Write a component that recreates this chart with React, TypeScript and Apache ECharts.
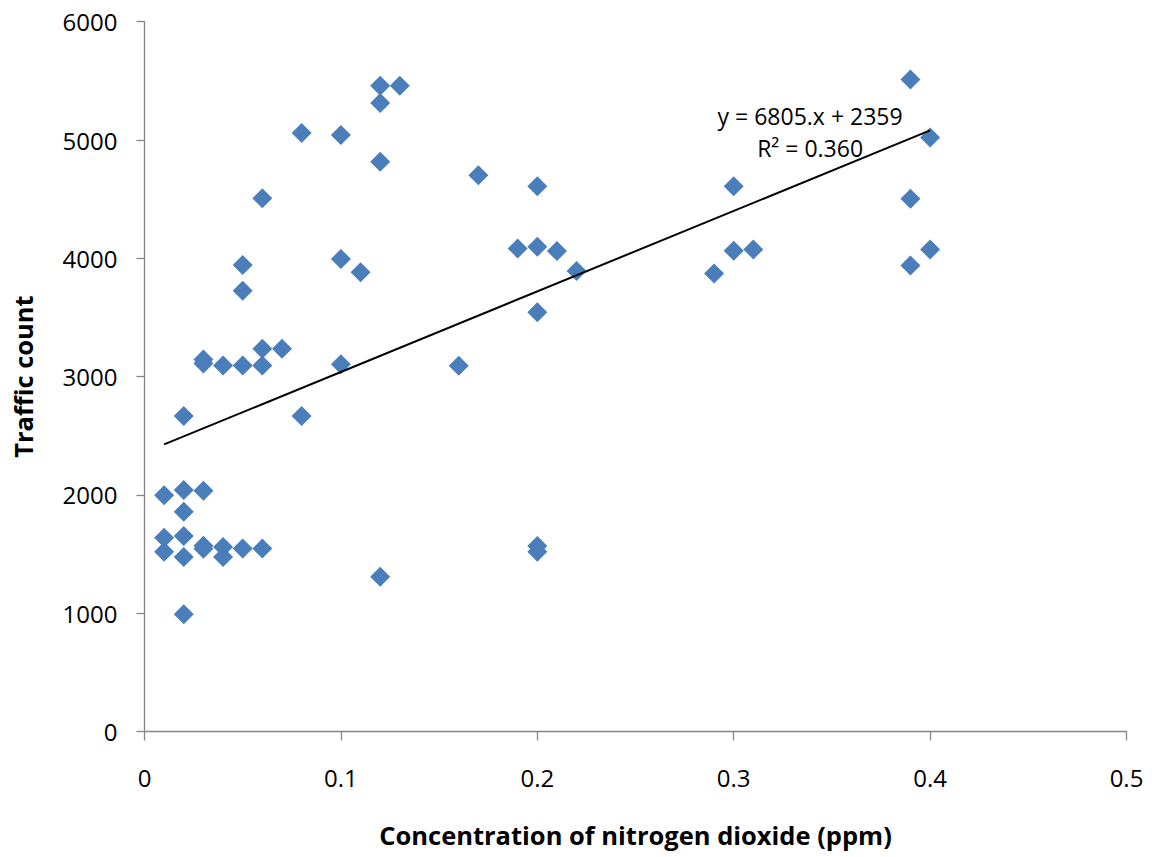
import React, { useEffect, useRef } from "react";
import * as echarts from "echarts";

// NO2 concentration (ppm) and traffic counts
const no2Ppm = [
  0.01, 0.01, 0.01,
  0.02, 0.02, 0.02, 0.02, 0.02, 0.02,
  0.03, 0.03, 0.03, 0.03, 0.03,
  0.04, 0.04, 0.04,
  0.05, 0.05, 0.05, 0.05,
  0.06, 0.06, 0.06, 0.06,
  0.07,
  0.08, 0.08,
  0.1, 0.1, 0.1,
  0.11,
  0.12, 0.12, 0.12, 0.12,
  0.13,
  0.16,
  0.17,
  0.19,
  0.2, 0.2, 0.2, 0.2, 0.2,
  0.21,
  0.22,
  0.29,
  0.3, 0.3,
  0.31,
  0.39, 0.39, 0.39,
  0.4, 0.4,
];
const trafficCount = [
  1996, 1638, 1520,
  2666, 2041, 1858, 1652, 1475, 991,
  3145, 3110, 2035, 1570, 1545,
  3094, 1559, 1475,
  3944, 3725, 3094, 1546,
  4507, 3235, 3094, 1546,
  3235,
  5059, 2666,
  5042, 3995, 3105,
  3882,
  5459, 5312, 4817, 1308,
  5459,
  3091,
  4703,
  4083,
  4610, 4097, 3543, 1568, 1520,
  4061,
  3892,
  3872,
  4610, 4063,
  4075,
  5512, 4503, 3940,
  5021, 4075,
];

// Linear trendline as reported on the chart
const trendSlope = 6805;
const trendIntercept = 2359;
const trendRange = [0.01, 0.4];
const equationText = ["y = 6805.x + 2359", "R² = 0.360"];
const equationAnchor = [0.3389, 5066];

const xTicks = { min: 0, max: 0.5, interval: 0.1 };
const yTicks = { min: 0, max: 6000, interval: 1000 };

const FONT = "'Open Sans', sans-serif";
const AXIS_GRAY = "#868686";

export default function App() {
  const ref = useRef<HTMLDivElement>(null);

  useEffect(() => {
    if (!ref.current) return;
    const chart = echarts.init(ref.current, undefined, { renderer: "svg" });
    const points = no2Ppm.map((x, i) => [x, trafficCount[i]]);
    const trend = trendRange.map((x) => [x, trendSlope * x + trendIntercept]);

    chart.setOption({
      animation: false,
      backgroundColor: "#ffffff",
      grid: { left: 144.5, right: 25.5, top: 21.7, bottom: 125.5, containLabel: false },
      xAxis: {
        type: "value",
        min: xTicks.min,
        max: xTicks.max,
        interval: xTicks.interval,
        name: "Concentration of nitrogen dioxide (ppm)",
        nameLocation: "middle",
        nameGap: 103,
        nameTextStyle: {
          fontFamily: FONT,
          fontWeight: "bold",
          fontSize: 25.5,
          color: "#000",
          verticalAlign: "middle",
        },
        axisLine: { show: true, onZero: false, lineStyle: { color: AXIS_GRAY, width: 1.3 } },
        axisTick: { show: true, inside: false, length: 9, lineStyle: { color: AXIS_GRAY, width: 1.3 } },
        axisLabel: {
          fontFamily: FONT,
          fontSize: 24,
          color: "#000",
          margin: 34,
          formatter: (v: number) => String(Math.round(v * 10) / 10),
        },
        splitLine: { show: false },
      },
      yAxis: {
        type: "value",
        min: yTicks.min,
        max: yTicks.max,
        interval: yTicks.interval,
        name: "Traffic count",
        nameLocation: "middle",
        nameGap: 122,
        nameRotate: 90,
        nameTextStyle: {
          fontFamily: FONT,
          fontWeight: "bold",
          fontSize: 25.5,
          color: "#000",
          verticalAlign: "middle",
        },
        axisLine: { show: true, onZero: false, lineStyle: { color: AXIS_GRAY, width: 1.3 } },
        axisTick: { show: true, inside: false, length: 8, lineStyle: { color: AXIS_GRAY, width: 1.3 } },
        axisLabel: {
          fontFamily: FONT,
          fontSize: 24,
          color: "#000",
          margin: 27,
          formatter: (v: number) => String(v),
        },
        splitLine: { show: false },
      },
      series: [
        {
          type: "scatter",
          data: points,
          symbol: "diamond",
          symbolSize: 20,
          itemStyle: { color: "#4a7ebb", opacity: 1 },
          z: 2,
        },
        {
          type: "line",
          data: trend,
          symbol: "none",
          lineStyle: { color: "#000", width: 2 },
          z: 3,
          silent: true,
        },
        {
          type: "scatter",
          data: [equationAnchor],
          symbolSize: 0,
          silent: true,
          z: 4,
          itemStyle: { opacity: 0 },
          label: {
            show: true,
            position: "inside",
            formatter: equationText.join("\n"),
            fontFamily: FONT,
            fontSize: 23,
            lineHeight: 32,
            color: "#000",
            opacity: 1,
            align: "center",
            verticalAlign: "middle",
          },
        },
      ],
    });

    return () => chart.dispose();
  }, []);

  return (
    <div
      ref={ref}
      style={{ position: "fixed", left: 0, top: 0, width: 1152, height: 857, background: "#fff" }}
    />
  );
}
